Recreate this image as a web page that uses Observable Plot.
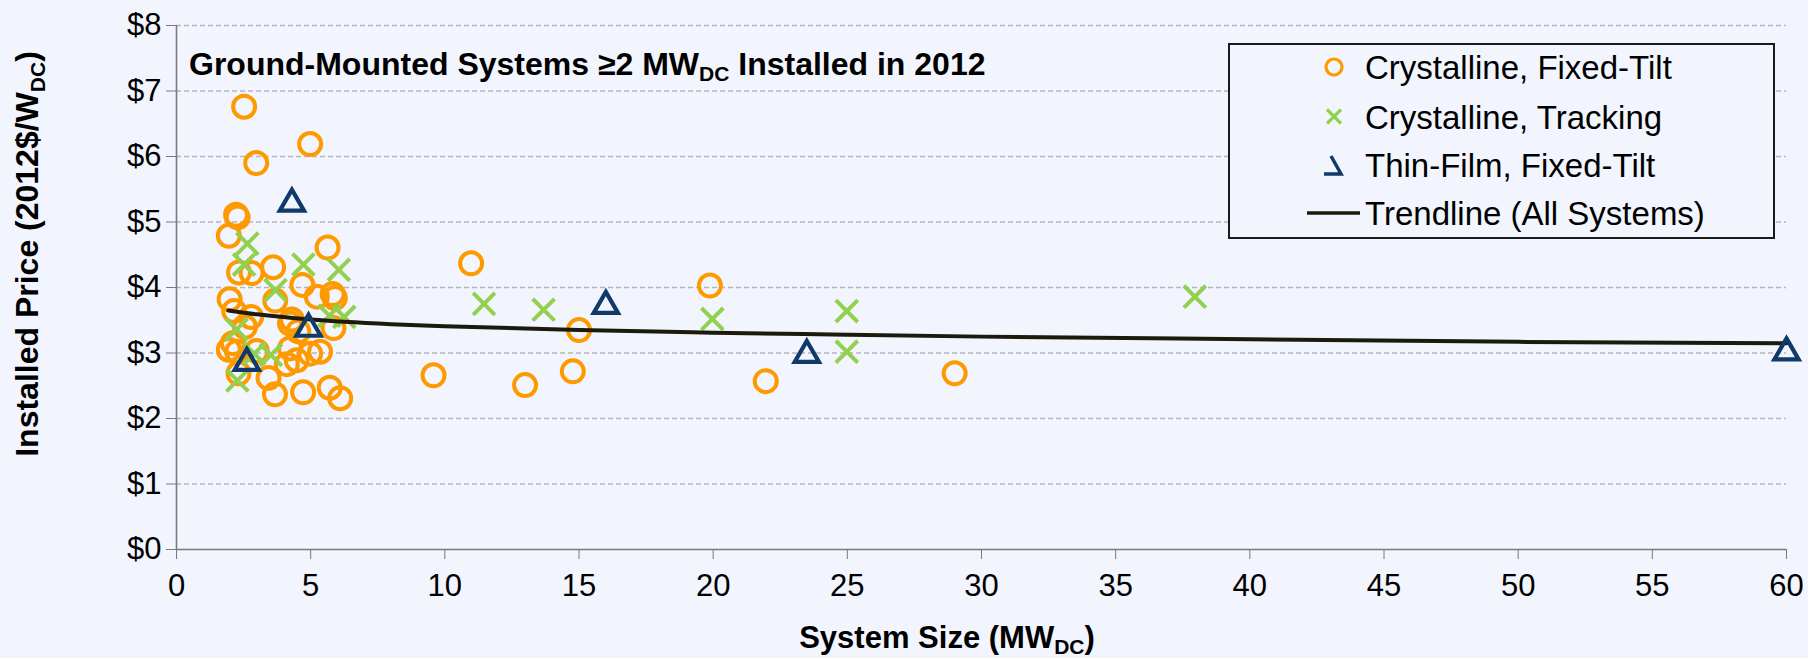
<!DOCTYPE html>
<html>
<head>
<meta charset="utf-8">
<script src="https://cdn.jsdelivr.net/npm/d3@7"></script>
<script src="https://cdn.jsdelivr.net/npm/@observablehq/plot@0.6"></script>
<style>
  html, body { margin: 0; padding: 0; background: #F2F5FD; }
  #chart { position: relative; width: 1808px; height: 658px; overflow: hidden; }
</style>
</head>
<body>
<div id="chart"></div>
<script>
// ---- Data ----
const xTicks = [0, 5, 10, 15, 20, 25, 30, 35, 40, 45, 50, 55, 60];
const yTicks = [0, 1, 2, 3, 4, 5, 6, 7, 8];

// Crystalline, Fixed-Tilt (orange circles)
const fixedX = [2.52, 4.98, 2.97, 2.22, 2.28, 1.95, 5.63, 2.33, 2.80, 3.60, 4.69, 1.98, 3.68, 5.23, 5.82, 5.90,
                2.15, 2.78, 4.30, 2.55, 4.23, 4.54, 5.85, 1.95, 2.26, 2.10, 2.99, 4.23, 4.98, 5.35, 4.48, 4.11,
                2.31, 3.43, 3.67, 4.72, 5.71, 6.10,
                9.58, 10.98, 12.99, 14.77, 15.00, 19.88, 21.96, 29.00];
const fixedY = [6.76, 6.19, 5.90, 5.11, 5.07, 4.79, 4.61, 4.23, 4.22, 4.31, 4.04, 3.82, 3.80, 3.86, 3.90, 3.84,
                3.64, 3.55, 3.51, 3.40, 3.45, 3.33, 3.38, 3.05, 3.02, 3.15, 3.03, 3.07, 2.99, 3.02, 2.89, 2.83,
                2.69, 2.62, 2.37, 2.40, 2.47, 2.31,
                2.66, 4.37, 2.51, 2.72, 3.35, 4.03, 2.57, 2.69];

// Crystalline, Tracking (green crosses)
const trackX = [2.64, 2.52, 3.69, 4.73, 6.05, 2.24, 2.90, 3.52, 2.27, 5.70, 6.25,
                11.46, 13.68, 19.97, 24.98, 24.98, 37.95];
const trackY = [4.67, 4.35, 3.96, 4.35, 4.27, 3.36, 2.99, 2.97, 2.58, 3.57, 3.55,
                3.75, 3.66, 3.52, 3.64, 3.02, 3.86];

// Thin-Film, Fixed-Tilt (navy triangles)
const thinX = [4.30, 2.62, 4.92, 16.0, 23.49, 60.0];
const thinY = [5.28, 2.85, 3.37, 3.72, 2.97, 3.01];

// Trendline (All Systems)
const trendX = [1.93, 3, 5, 8, 10, 15, 20, 25, 30, 40, 50, 60];
const trendY = [3.65, 3.59, 3.51, 3.44, 3.41, 3.35, 3.31, 3.28, 3.25, 3.21, 3.17, 3.15];

const seriesNames = ["Crystalline, Fixed-Tilt", "Crystalline, Tracking", "Thin-Film, Fixed-Tilt", "Trendline (All Systems)"];

// ---- Build tables ----
const fixed = fixedX.map((x, i) => ({x, y: fixedY[i]}));
const track = trackX.map((x, i) => ({x, y: trackY[i]}));
const thin = thinX.map((x, i) => ({x, y: thinY[i]}));
const trend = trendX.map((x, i) => ({x, y: trendY[i]}));

const ORANGE = "#FF9900", GREEN = "#92D050", NAVY = "#0F3A6A", DARK = "#1C1A0C";
const BG = "#F2F5FD";
const FONT = "'Liberation Sans', Arial, Helvetica, sans-serif";

const plot = Plot.plot({
  width: 1808,
  height: 658,
  marginLeft: 176,
  marginRight: 22,
  marginTop: 25,
  marginBottom: 109,
  style: {background: BG, fontFamily: FONT, color: "#000", overflow: "visible"},
  x: {domain: [0, 60], label: null},
  y: {domain: [0, 8], label: null},
  marks: [
    Plot.gridY(yTicks.filter(d => d > 0), {stroke: "#B4B6BC", strokeOpacity: 1, strokeWidth: 1.5, strokeDasharray: "5,3"}),
    Plot.ruleY([0], {stroke: "#7A7A7A", strokeWidth: 1.6}),
    Plot.ruleX([0], {stroke: "#7A7A7A", strokeWidth: 1.6}),
    Plot.axisY({ticks: yTicks, tickFormat: d => "$" + d, tickSize: 10, tickPadding: 5, stroke: "#7A7A7A", fill: "#000", fontSize: 31, label: null}),
    Plot.axisX({ticks: xTicks, tickFormat: d => String(d), tickSize: 10, tickPadding: 14, stroke: "#7A7A7A", fill: "#000", fontSize: 31, label: null}),
    Plot.dot(fixed, {x: "x", y: "y", symbol: "circle", r: 11, stroke: ORANGE, strokeWidth: 4, fill: "none"}),
    Plot.dot(track, {x: "x", y: "y", symbol: "times", r: 10, stroke: GREEN, strokeWidth: 4}),
    Plot.line(trend, {x: "x", y: "y", stroke: DARK, strokeWidth: 4, curve: "monotone-x"}),
    Plot.dot(thin, {x: "x", y: "y", symbol: "triangle", r: 9, stroke: NAVY, strokeWidth: 4.2, fill: "none"})
  ]
});

document.getElementById("chart").appendChild(plot);

// ---- Titles and legend (text with subscripts) ----
const svg = d3.select(plot);
const g = svg.append("g").attr("font-family", FONT).attr("fill", "#000").attr("text-anchor", "start");

// Chart title inside plot area
const t = g.append("text").attr("x", 189).attr("y", 75).attr("text-anchor", "start")
  .attr("font-size", 32).attr("font-weight", "bold");
t.append("tspan").text("Ground-Mounted Systems \u22652 MW");
t.append("tspan").attr("font-size", 21).attr("dy", 6).text("DC");
t.append("tspan").attr("dy", -6).text(" Installed in 2012");

// Y axis title
const yt = g.append("text").attr("transform", "translate(38,254) rotate(-90)")
  .attr("text-anchor", "middle").attr("font-size", 32).attr("font-weight", "bold");
yt.append("tspan").text("Installed Price (2012$/W");
yt.append("tspan").attr("font-size", 21).attr("dy", 7).text("DC");
yt.append("tspan").attr("dy", -7).text(")");

// X axis title
const xt = g.append("text").attr("x", 947).attr("y", 648)
  .attr("text-anchor", "middle").attr("font-size", 31).attr("font-weight", "bold");
xt.append("tspan").text("System Size (MW");
xt.append("tspan").attr("font-size", 21).attr("dy", 6).text("DC");
xt.append("tspan").attr("dy", -6).text(")");

// Legend
const lg = g.append("g");
lg.append("rect").attr("x", 1229).attr("y", 44).attr("width", 545).attr("height", 194)
  .attr("fill", BG).attr("stroke", "#1A1A1A").attr("stroke-width", 2);
const rowsY = [67, 116.5, 165, 213];
const mx = 1334, tx = 1365;
lg.append("circle").attr("cx", mx).attr("cy", rowsY[0]).attr("r", 8).attr("fill", "none").attr("stroke", ORANGE).attr("stroke-width", 3.2);
lg.append("path").attr("d", `M${mx-7},${rowsY[1]-7}L${mx+7},${rowsY[1]+7}M${mx-7},${rowsY[1]+7}L${mx+7},${rowsY[1]-7}`)
  .attr("stroke", GREEN).attr("stroke-width", 3.2).attr("fill", "none");
lg.append("path").attr("d", `M${mx-3},${rowsY[2]-9}L${mx+7},${rowsY[2]+9}L${mx-10},${rowsY[2]+9}`)
  .attr("stroke", NAVY).attr("stroke-width", 3.5).attr("fill", "none");
lg.append("line").attr("x1", 1307).attr("x2", 1360).attr("y1", rowsY[3]).attr("y2", rowsY[3])
  .attr("stroke", DARK).attr("stroke-width", 3.5);
seriesNames.forEach((name, i) => {
  lg.append("text").attr("x", tx).attr("y", rowsY[i] + 12).attr("text-anchor", "start")
    .attr("font-size", 33).text(name);
});
</script>
</body>
</html>
